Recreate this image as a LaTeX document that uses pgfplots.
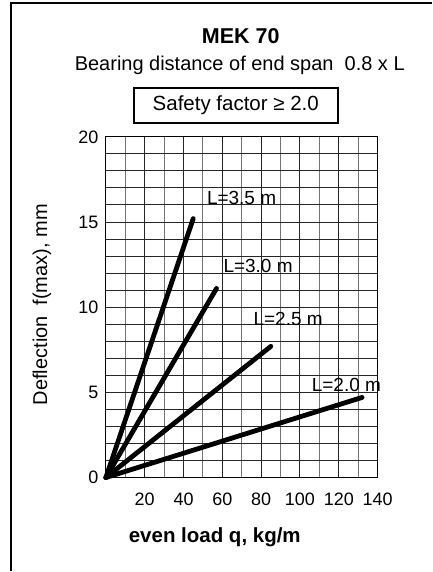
\documentclass[border=0pt]{standalone}
\usepackage{pgfplots}
\pgfplotsset{compat=1.18}
\usepackage{fontspec}
\setmainfont{Liberation Sans}
\begin{document}
\begin{tikzpicture}[x=1bp,y=1bp]
\path (0,0) rectangle (432,572);
% frame
\draw[line width=1.2bp] (11,0) -- (11,569) -- (432,569);
% titles
\node[font=\fontsize{21.5bp}{24bp}\selectfont\bfseries] at (241,536) {MEK 70};
\node[font=\fontsize{20bp}{24bp}\selectfont] at (240,507) {Bearing distance of end span\ \ 0.8 x L};
\draw[line width=2bp] (134,484) rectangle (338,449);
\node[font=\fontsize{20.5bp}{24bp}\selectfont] at (236,466.5) {Safety factor ≥ 2.0};
\node[font=\fontsize{20bp}{24bp}\selectfont, rotate=90] at (42,267) {Deflection\ \ f(max), mm};
\node[font=\fontsize{20.5bp}{24bp}\selectfont\bfseries] at (215,34) {even load q, kg/m};
\begin{axis}[
  at={(106bp,94bp)}, anchor=south west,
  scale only axis, width=272bp, height=341bp,
  xmin=0, xmax=140, ymin=0, ymax=20,
  xtick={20,40,...,140},
  minor xtick={10,30,...,130},
  ytick={0,1,...,20},
  yticklabels={0,,,,,5,,,,,10,,,,,15,,,,,20},
  grid=both,
  major grid style={black!85, line width=1bp},
  minor grid style={black!55, line width=1.1bp},
  axis line style={line width=1.2bp},
  major tick length=0pt, minor tick length=0pt,
  tick label style={font=\fontsize{18bp}{20bp}\selectfont},
  /pgf/number format/assume math mode=true,
  xticklabel style={yshift=-12bp},
  yticklabel style={xshift=-4bp},
  clip=false,
]
\addplot[black, line width=4.8bp, line cap=round] coordinates {(0,0) (45,15.2)};
\addplot[black, line width=4.8bp, line cap=round] coordinates {(0,0) (57,11.1)};
\addplot[black, line width=4.8bp, line cap=round] coordinates {(0,0) (85,7.7)};
\addplot[black, line width=4.8bp, line cap=round] coordinates {(0,0) (132,4.7)};
\node[anchor=west, inner sep=0pt, font=\fontsize{19bp}{22bp}\selectfont] at (axis cs:52,16.4) {L=3.5 m};
\node[anchor=west, inner sep=0pt, font=\fontsize{19bp}{22bp}\selectfont] at (axis cs:60.5,12.4) {L=3.0 m};
\node[anchor=west, inner sep=0pt, font=\fontsize{19bp}{22bp}\selectfont] at (axis cs:76,9.3) {L=2.5 m};
\node[anchor=west, inner sep=0pt, font=\fontsize{19bp}{22bp}\selectfont] at (axis cs:106,5.45) {L=2.0 m};
\end{axis}
\end{tikzpicture}
\end{document}
